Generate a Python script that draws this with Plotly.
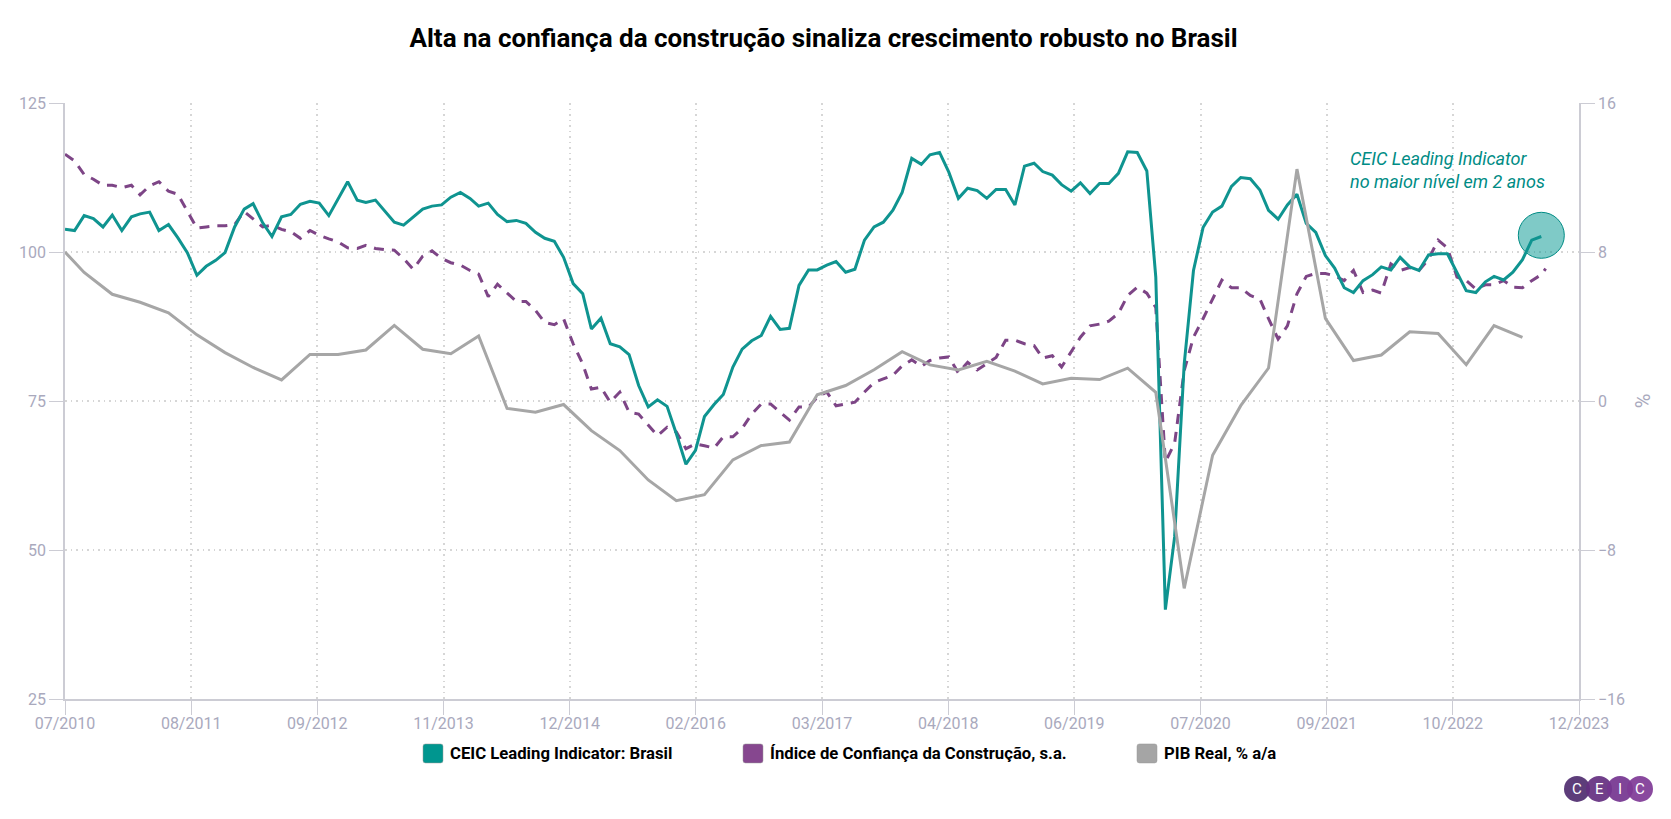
import pandas as pd
import plotly.graph_objects as go

W, H = 1671, 819
L, R, T, B = 65, 1579, 102.5, 699

# monthly, from 07/2010
leading = [103.8, 103.6, 106.1, 105.6, 104.2, 106.2, 103.6, 105.9, 106.4, 106.7, 103.6, 104.6, 102.4, 99.9, 96.1, 97.6,
           98.6, 99.9, 104.2, 107.2, 108.1, 104.9, 102.6, 105.9, 106.3, 108.0, 108.5, 108.2, 106.1, 109.0, 111.8, 108.7,
           108.3, 108.7, 106.8, 105.0, 104.5, 105.9, 107.2, 107.7, 107.9, 109.2, 110.0, 109.0, 107.7, 108.2, 106.3, 105.1,
           105.3, 104.8, 103.3, 102.3, 101.8, 99.1, 94.7, 93.0, 87.1, 88.9, 84.6, 84.1, 82.8, 77.6, 74.0, 75.2,
           74.1, 69.5, 64.4, 66.7, 72.4, 74.4, 76.1, 80.7, 83.7, 85.1, 86.0, 89.2, 87.0, 87.2, 94.4, 97.0,
           97.0, 97.8, 98.4, 96.6, 97.1, 102.0, 104.2, 105.0, 107.0, 110.0, 115.7, 114.7, 116.3, 116.7, 113.4, 109.0,
           110.7, 110.3, 109.0, 110.5, 110.5, 107.9, 114.4, 114.9, 113.5, 112.9, 111.3, 110.2, 111.6, 109.8, 111.5, 111.5,
           113.2, 116.8, 116.7, 113.6, 95.8, 40.0, 52.2, 81.2, 96.9, 104.1, 106.7, 107.7, 111.0, 112.5, 112.3, 110.4,
           107.0, 105.5, 107.9, 109.7, 104.8, 103.3, 99.4, 97.3, 94.0, 93.2, 95.2, 96.2, 97.5, 97.0, 99.1, 97.5,
           96.9, 99.5, 99.7, 99.7, 96.6, 93.5, 93.2, 95.0, 95.9, 95.3, 96.6, 98.7, 102.0, 102.6]

confianca = [116.4, 115.3, 113.0, 112.2, 111.2, 111.2, 110.8, 111.2, 109.6, 111.1, 111.8, 110.2, 109.7, 106.9, 104.0, 104.2,
             104.4, 104.4, 104.6, 106.8, 105.5, 104.2, 104.5, 103.8, 103.4, 102.3, 103.6, 102.8, 102.2, 101.7, 100.7, 100.6,
             101.1, 100.6, 100.4, 100.3, 98.9, 97.1, 99.3, 100.2, 98.9, 98.2, 97.8, 96.9, 96.3, 92.5, 94.6, 93.2,
             91.7, 91.7, 90.2, 88.2, 87.8, 88.8, 84.6, 81.2, 77.0, 77.3, 74.8, 76.5, 73.1, 72.8, 70.9, 69.2,
             70.6, 69.8, 67.0, 67.8, 67.5, 67.1, 69.0, 69.0, 70.4, 72.8, 74.5, 74.5, 73.1, 71.8, 74.0, 74.0,
             75.6, 76.5, 74.2, 74.5, 74.8, 76.5, 78.1, 78.7, 79.3, 80.9, 81.9, 80.8, 81.8, 82.2, 82.4, 79.7,
             81.5, 80.2, 81.2, 82.3, 85.2, 85.2, 84.6, 84.3, 82.2, 82.6, 80.7, 83.2, 85.7, 87.6, 87.9, 88.4,
             89.7, 92.7, 94.1, 93.1, 90.7, 64.8, 67.9, 80.1, 85.7, 88.8, 92.1, 95.3, 94.0, 94.0, 92.7, 92.1,
             88.8, 85.4, 87.6, 93.0, 95.9, 96.4, 96.4, 96.0, 95.2, 96.9, 93.2, 93.6, 93.1, 98.0, 96.9, 97.4,
             96.9, 98.8, 102.0, 100.7, 95.8, 95.2, 93.8, 94.5, 94.5, 95.2, 94.1, 94.0, 95.2, 96.2, 97.2]

# quarterly, % a/a, right axis
pib = [8.0, 6.9, 5.73, 5.3, 4.74, 3.55, 2.6, 1.8, 1.13, 2.5, 2.5, 2.74, 4.06, 2.78, 2.54, 3.49, -0.4, -0.6, -0.19,
       -1.59, -2.66, -4.24, -5.35, -5.03, -3.16, -2.39, -2.2, 0.33, 0.83, 1.68, 2.65, 1.94, 1.67, 2.13, 1.6, 0.92,
       1.22, 1.15, 1.76, 0.47, -10.06, -2.91, -0.25, 1.77, 12.45, 4.44, 2.17, 2.47, 3.72, 3.62, 1.95, 4.05, 3.42]

x_labels = ["07/2010", "08/2011", "09/2012", "11/2013", "12/2014", "02/2016", "03/2017",
            "04/2018", "06/2019", "07/2020", "09/2021", "10/2022", "12/2023"]
y_ticks = [25, 50, 75, 100, 125]
y2_ticks = [-16, -8, 0, 8, 16]

meses = pd.date_range("2010-07-01", periods=len(leading), freq="MS")
# the confidence line runs a little past the last leading indicator reading
meses_conf = list(meses) + [pd.Timestamp("2023-08-15")]
trimestres = [pd.Timestamp("2010-07-01")] + list(pd.date_range("2010-09-01", periods=len(pib) - 1, freq="3MS"))
x_ticks = pd.date_range("2010-07-01", "2023-12-01", periods=len(x_labels))

TEAL, PURPLE, GREY = "#0f9490", "#7d4586", "#a6a6a6"
AXIS = "#ccccd4"
GRID = "#d6d6d6"
TICKFONT = "#a9a9bd"


def px(x):
    return (x - L) / (R - L)


def py(y):
    return (B - y) / (B - T)


def rounded_box(x0, y0, x1, y1, r=2.5):
    a0, a1, b0, b1 = px(x0), px(x1), py(y0), py(y1)
    rx, ry = r / (R - L), r / (B - T)
    return (f"M{a0 + rx},{b0} L{a1 - rx},{b0} Q{a1},{b0} {a1},{b0 - ry} L{a1},{b1 + ry} Q{a1},{b1} {a1 - rx},{b1} "
            f"L{a0 + rx},{b1} Q{a0},{b1} {a0},{b1 + ry} L{a0},{b0 - ry} Q{a0},{b0} {a0 + rx},{b0} Z")


fig = go.Figure()
fig.add_trace(go.Scatter(x=trimestres, y=pib, yaxis="y2", mode="lines", name="PIB Real, % a/a",
                         line=dict(color=GREY, width=3)))
fig.add_trace(go.Scatter(x=meses_conf, y=confianca, mode="lines", name="Índice de Confiança da Construção, s.a.",
                         line=dict(color=PURPLE, width=3, dash="10px,8px")))
# circle around the last reading
fig.add_trace(go.Scatter(x=[meses[-1]], y=[102.8], mode="markers",
                         marker=dict(size=46, color="rgba(0,150,143,0.5)", line=dict(color="#008c85", width=1))))
fig.add_trace(go.Scatter(x=meses, y=leading, mode="lines", name="CEIC Leading Indicator: Brasil",
                         line=dict(color=TEAL, width=3)))

shapes, annotations = [], []

# legend drawn by hand, rounded squares
legend_items = [("CEIC Leading Indicator: Brasil", "#00968f", 423),
                ("Índice de Confiança da Construção, s.a.", "#86478f", 743),
                ("PIB Real, % a/a", "#a5a5a5", 1137)]
for name, color, x0 in legend_items:
    shapes.append(dict(type="path", xref="paper", yref="paper", path=rounded_box(x0, 744, x0 + 20, 763), layer="below",
                       fillcolor=color, line=dict(color="#999999", width=0.5)))
    annotations.append(dict(xref="paper", yref="paper", x=px(x0 + 25), y=py(753.5), text=f"<b>{name}</b>",
                            showarrow=False, xanchor="left", yanchor="middle",
                            font=dict(family="Roboto", size=16.7, color="#000000")))

# logo
logo = [("C", 1577, "#4f2d6f"), ("E", 1599, "#642f80"), ("I", 1620, "#74348f"), ("C", 1640, "#7f3a96")]
for letter, cx, color in logo:
    shapes.append(dict(type="circle", xref="paper", yref="paper", x0=px(cx - 13), x1=px(cx + 13), layer="below",
                       y0=py(789 + 13), y1=py(789 - 13), fillcolor=color, opacity=0.92, line=dict(width=0)))
    annotations.append(dict(xref="paper", yref="paper", x=px(cx), y=py(789), text=letter, showarrow=False,
                            xanchor="center", yanchor="middle",
                            font=dict(family="Roboto", size=15, color="#ffffff")))

annotations.append(dict(xref="paper", yref="paper", x=px(1348), y=py(170),
                        text="CEIC Leading Indicator<br>no maior nível em 2 anos", showarrow=False,
                        xanchor="left", yanchor="middle", align="left",
                        font=dict(family="Roboto", size=18, color="#008c85", style="italic")))

fig.update_layout(
    width=W, height=H, showlegend=False,
    paper_bgcolor="white", plot_bgcolor="white",
    margin=dict(l=L, r=W - R, t=T, b=H - B, autoexpand=False),
    font=dict(family="Roboto", size=16, color=TICKFONT),
    title=dict(text="<b>Alta na confiança da construção sinaliza crescimento robusto no Brasil</b>",
               x=823.5 / W, xanchor="center", y=1 - 38 / H, yanchor="middle",
               font=dict(family="Roboto", size=26, color="#000000")),
    shapes=shapes, annotations=annotations,
    xaxis=dict(type="date", range=["2010-07-01", "2023-12-01"], tickvals=list(x_ticks), ticktext=x_labels,
               tickangle=0, showgrid=True, gridcolor=GRID, griddash="1.5px,4px", gridwidth=1.5, zeroline=False,
               showline=True, linecolor=AXIS, linewidth=1.5, ticks="outside", ticklen=14, tickcolor=AXIS,
               ticklabelstandoff=-5),
    yaxis=dict(range=[25, 125], tickvals=y_ticks, showgrid=True, gridcolor=GRID, griddash="1.5px,4px", gridwidth=1.5,
               zeroline=False, showline=True, linecolor=AXIS, linewidth=1.5, ticks="outside", ticklen=14,
               tickcolor=AXIS),
    yaxis2=dict(range=[-16, 16], tickvals=y2_ticks, overlaying="y", side="right", showgrid=False, zeroline=False,
                showline=True, linecolor=AXIS, linewidth=1.5, ticks="outside", ticklen=14, tickcolor=AXIS,
                title=dict(text="%", font=dict(family="Roboto", size=20, color=TICKFONT), standoff=12)),
)

fig.write_html("out.html", config={"displayModeBar": False},
               post_script="document.body.style.margin='0';document.body.style.overflow='hidden';")
